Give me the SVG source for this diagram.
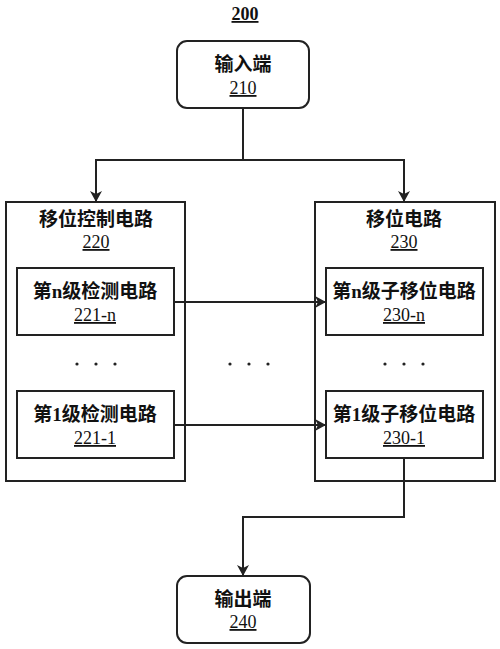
<svg xmlns="http://www.w3.org/2000/svg" width="500" height="649" viewBox="0 0 500 649">
<style>
.box{fill:#fff;stroke:#222;stroke-width:2}
.t{font-family:"Liberation Serif","Noto Sans CJK SC",serif;font-size:19px;fill:#111;text-anchor:middle;font-weight:bold}
.n{font-family:"Liberation Serif",serif;font-size:18px;fill:#111;text-anchor:middle;text-decoration:underline}
.c{fill:none;stroke:#222;stroke-width:2}
.dot{fill:#222}
</style>
<defs>
<marker id="ah" markerWidth="12" markerHeight="12" refX="10" refY="6" orient="auto" markerUnits="userSpaceOnUse">
<path d="M0,0 L11,6 L0,12 L3,6 Z" fill="#222"/>
</marker>
</defs>
<rect width="500" height="649" fill="#fff"/>
<text class="n" x="245" y="20" style="font-weight:bold">200</text>
<g id="input">
<rect class="box" x="177" y="41" width="132" height="67" rx="10"/>
<text class="t" x="243" y="71">输入端</text>
<text class="n" x="243" y="94">210</text>
</g>
<g id="ctrl">
<rect class="box" x="6" y="202" width="179" height="279"/>
<text class="t" x="96" y="226">移位控制电路</text>
<text class="n" x="96" y="248">220</text>
</g>
<g id="det-n">
<rect class="box" x="17" y="268" width="157" height="67"/>
<text class="t" x="95" y="298">第n级检测电路</text>
<text class="n" x="95" y="321">221-n</text>
</g>
<g id="det-1">
<rect class="box" x="17" y="391" width="157" height="67"/>
<text class="t" x="95" y="421">第1级检测电路</text>
<text class="n" x="95" y="444">221-1</text>
</g>
<g id="shift">
<rect class="box" x="315" y="202" width="180" height="279"/>
<text class="t" x="404" y="226">移位电路</text>
<text class="n" x="404" y="248">230</text>
</g>
<g id="sub-n">
<rect class="box" x="326" y="268" width="157" height="67"/>
<text class="t" x="404" y="298">第n级子移位电路</text>
<text class="n" x="404" y="321">230-n</text>
</g>
<g id="sub-1">
<rect class="box" x="326" y="391" width="157" height="67"/>
<text class="t" x="404" y="421">第1级子移位电路</text>
<text class="n" x="404" y="444">230-1</text>
</g>
<g id="dots">
<circle class="dot" cx="77" cy="364" r="1.6"/><circle class="dot" cx="96" cy="364" r="1.6"/><circle class="dot" cx="115" cy="364" r="1.6"/>
<circle class="dot" cx="230" cy="364" r="1.6"/><circle class="dot" cx="249" cy="364" r="1.6"/><circle class="dot" cx="268" cy="364" r="1.6"/>
<circle class="dot" cx="385" cy="364" r="1.6"/><circle class="dot" cx="404" cy="364" r="1.6"/><circle class="dot" cx="423" cy="364" r="1.6"/>
</g>
<g id="output">
<rect class="box" x="177" y="576" width="133" height="67" rx="10"/>
<text class="t" x="243" y="606">输出端</text>
<text class="n" x="243" y="628">240</text>
</g>
<g id="connectors">
<path class="c" d="M243,108 V160 H96 V201" marker-end="url(#ah)"/>
<path class="c" d="M243,160 H404 V201" marker-end="url(#ah)"/>
<path class="c" d="M174,302 H325" marker-end="url(#ah)"/>
<path class="c" d="M174,425 H325" marker-end="url(#ah)"/>
<path class="c" d="M404,458 V517 H243 V575" marker-end="url(#ah)"/>
</g>
</svg>
